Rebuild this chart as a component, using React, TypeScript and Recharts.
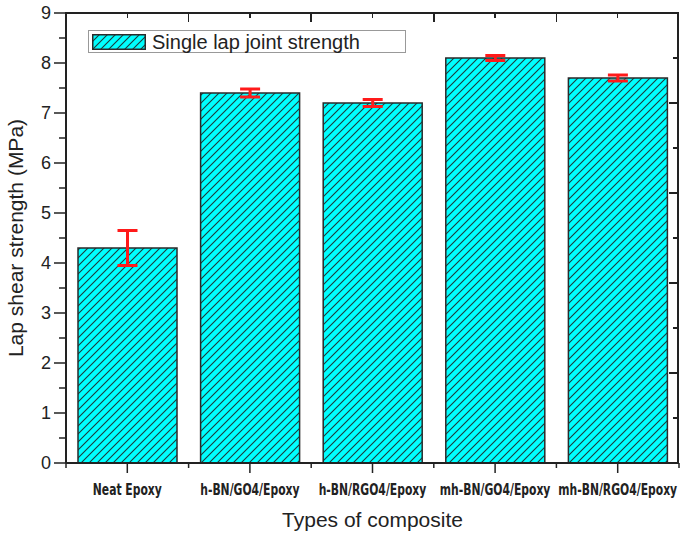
import React from 'react';
import { BarChart, Bar, XAxis, YAxis, ErrorBar, Label } from 'recharts';

const categories = ['Neat Epoxy', 'h-BN/GO4/Epoxy', 'h-BN/RGO4/Epoxy', 'mh-BN/GO4/Epoxy', 'mh-BN/RGO4/Epoxy'];
const strength = [4.3, 7.4, 7.2, 8.1, 7.7];
const strengthErr = [0.35, 0.08, 0.07, 0.05, 0.06];

const leftTicks = [0, 0.5, 1, 1.5, 2, 2.5, 3, 3.5, 4, 4.5, 5, 5.5, 6, 6.5, 7, 7.5, 8, 8.5, 9];
const rightTicks = [0, 0.9, 1.8, 2.7, 3.6, 4.5, 5.4, 6.3, 7.2, 8.1, 9];

const data = categories.map((name, i) => ({ name, strength: strength[i], err: strengthErr[i] }));

const W = 685;
const H = 539;
const MARGIN = { top: 13, right: 6, bottom: 0, left: 6 };
const Y_AXIS_W = 60;
const X_AXIS_H = 76;
const AXIS = '#222';
const SANS = "'Liberation Sans', Arial, sans-serif";
const NARROW = "'Liberation Sans Narrow', 'DejaVu Sans Condensed', 'Roboto Condensed', sans-serif";

// plot box, from the same layout numbers given to the chart
const PLOT = {
  left: MARGIN.left + Y_AXIS_W,
  right: W - MARGIN.right,
  top: MARGIN.top,
  bottom: H - MARGIN.bottom - X_AXIS_H,
};

// outward ticks on the left, labels on integers only
const LeftTick = (props: any) => {
  const { x, y, payload } = props;
  const major = Number.isInteger(payload.value);
  return (
    <g>
      <line x1={x - (major ? 12 : 7)} x2={x} y1={y} y2={y} stroke={AXIS} strokeWidth={1.5} />
      {major && (
        <text x={x - 15} y={y} dy={6} textAnchor="end" fontSize={18} fontFamily={SANS} fill="#222">
          {payload.value}
        </text>
      )}
    </g>
  );
};

// bottom: long outward tick + label at each category, short at the boundaries
const CategoryTick = (props: any) => {
  const { x, y, payload, index, width, visibleTicksCount } = props;
  const half = width / visibleTicksCount / 2;
  const last = index === visibleTicksCount - 1;
  return (
    <g>
      <g stroke={AXIS} strokeWidth={1.5}>
        <line x1={x} x2={x} y1={y} y2={y + 10} />
        <line x1={x - half} x2={x - half} y1={y} y2={y + 5} />
        {last && <line x1={x + half} x2={x + half} y1={y} y2={y + 5} />}
      </g>
      <text
        transform={`translate(${x},${y + 32}) scale(0.8,1)`}
        textAnchor="middle"
        fontSize={15}
        fontWeight="bold"
        fontFamily={NARROW}
        fill="#222"
      >
        {payload.value}
      </text>
    </g>
  );
};

// top and right edges of the frame: HTML borders plus small tick divs
const Frame = () => {
  const { left, right, top, bottom } = PLOT;
  const width = right - left;
  const height = bottom - top;
  const band = width / categories.length;
  const yMax = rightTicks[rightTicks.length - 1];
  const topTicks: { x: number; len: number }[] = [];
  categories.forEach((_, i) => {
    topTicks.push({ x: left + band * i, len: 9 });
    topTicks.push({ x: left + band * (i + 0.5), len: 5 });
  });
  return (
    <>
      <div
        style={{
          position: 'absolute',
          left: left - 1,
          top: top - 1,
          width: width + 1,
          height: height + 1,
          borderTop: `2px solid ${AXIS}`,
          borderRight: `2px solid ${AXIS}`,
          boxSizing: 'border-box',
          pointerEvents: 'none',
        }}
      />
      {topTicks.map((t, i) => (
        <div
          key={`t${i}`}
          style={{ position: 'absolute', left: t.x - 0.75, top: top, width: 1.5, height: t.len, background: AXIS }}
        />
      ))}
      {rightTicks.map((v, i) => {
        const len = i % 2 === 0 ? 10 : 6;
        const ty = bottom - (v / yMax) * height;
        return (
          <div
            key={`r${v}`}
            style={{ position: 'absolute', left: right - len, top: ty - 0.75, width: len, height: 1.5, background: AXIS }}
          />
        );
      })}
    </>
  );
};

const HatchDefs = ({ id }: { id: string }) => (
  <defs>
    <pattern id={id} patternUnits="userSpaceOnUse" width={8} height={8}>
      <rect width={8} height={8} fill="#00ffff" />
      <path d="M0,8 L8,0 M-2,2 L2,-2 M6,10 L10,6" stroke="#1c3b3b" strokeWidth={1.1} />
    </pattern>
  </defs>
);

export default function App() {
  return (
    <div style={{ position: 'absolute', left: 0, top: 0, width: W, height: H, background: '#fff' }}>
      <BarChart width={W} height={H} data={data} margin={MARGIN} barSize={99}>
        <HatchDefs id="hatch" />
        <XAxis
          xAxisId="cat"
          dataKey="name"
          height={X_AXIS_H}
          interval={0}
          tickSize={0}
          tickMargin={0}
          tickLine={false}
          tick={<CategoryTick />}
          axisLine={{ stroke: AXIS, strokeWidth: 2 }}
        >
          <Label value="Types of composite" position="insideBottom" offset={12} fontSize={21} fontFamily={SANS} fill="#222" />
        </XAxis>
        <YAxis
          yAxisId="left"
          domain={[0, 9]}
          ticks={leftTicks}
          interval={0}
          width={Y_AXIS_W}
          tickSize={0}
          tickMargin={0}
          tickLine={false}
          tick={<LeftTick />}
          axisLine={{ stroke: AXIS, strokeWidth: 2 }}
        >
          <Label
            value="Lap shear strength (MPa)"
            angle={-90}
            position="insideLeft"
            offset={10}
            fontSize={21}
            fontFamily={SANS}
            fill="#222"
            style={{ textAnchor: 'middle' }}
          />
        </YAxis>
        <Bar
          xAxisId="cat"
          yAxisId="left"
          dataKey="strength"
          fill="url(#hatch)"
          stroke="#2a2a2a"
          strokeWidth={1.5}
          isAnimationActive={false}
        >
          <ErrorBar dataKey="err" width={10} stroke="#ff1a1a" strokeWidth={3} />
        </Bar>
      </BarChart>

      <Frame />

      <div
        style={{
          position: 'absolute',
          left: 88,
          top: 30,
          width: 318,
          height: 23,
          border: '1px solid #999',
          background: '#fff',
          display: 'flex',
          alignItems: 'center',
          boxSizing: 'border-box',
        }}
      >
        <svg width={54} height={16} style={{ marginLeft: 3 }}>
          <HatchDefs id="hatch-legend" />
          <rect x={0.75} y={0.75} width={52.5} height={14.5} fill="url(#hatch-legend)" stroke="#2a2a2a" strokeWidth={1.5} />
        </svg>
        <span style={{ marginLeft: 6, fontSize: 20, fontFamily: SANS, color: '#222', lineHeight: '20px' }}>
          Single lap joint strength
        </span>
      </div>
    </div>
  );
}
